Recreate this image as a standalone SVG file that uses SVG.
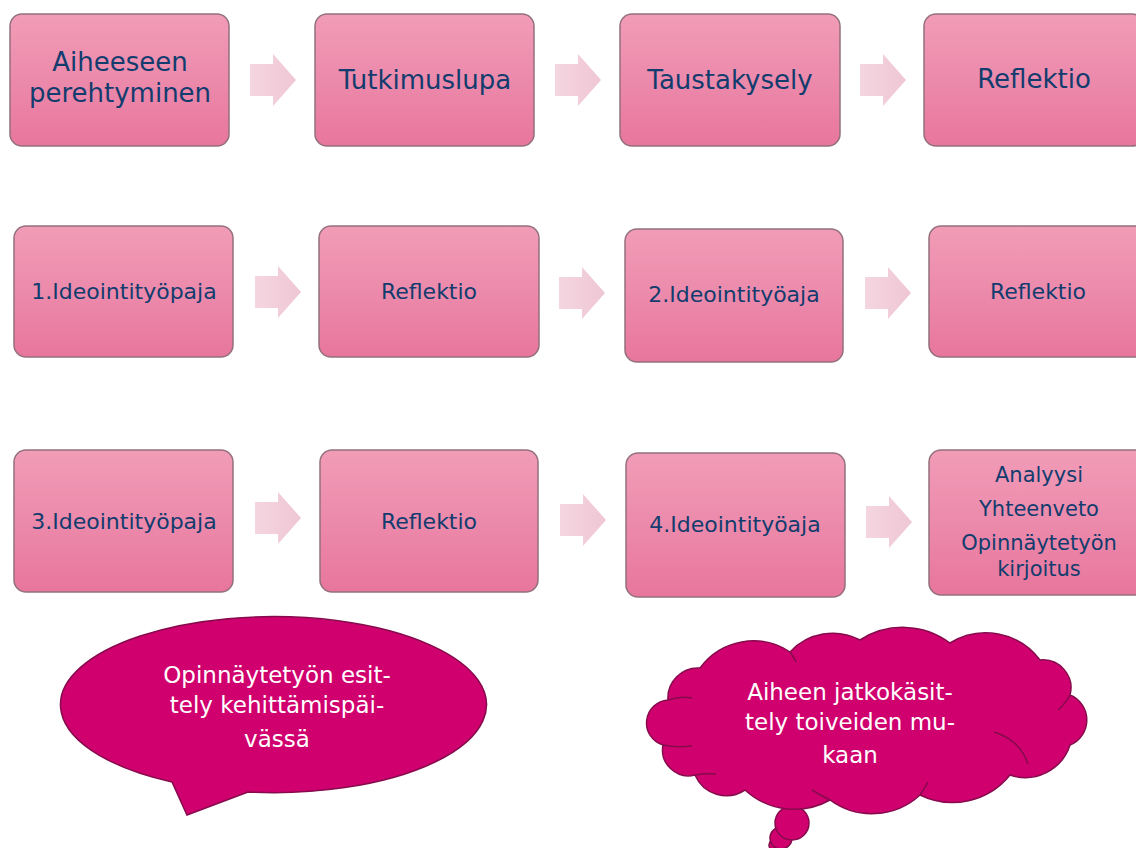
<svg xmlns="http://www.w3.org/2000/svg" width="1136" height="848" viewBox="0 0 1136 848">
<defs>
<linearGradient id="boxg" x1="0" y1="0" x2="0" y2="1">
<stop offset="0" stop-color="#f19cb7"/>
<stop offset="0.5" stop-color="#ec8aab"/>
<stop offset="1" stop-color="#e8769c"/>
</linearGradient>
<linearGradient id="arrg" x1="0" y1="0" x2="1" y2="0">
<stop offset="0" stop-color="#f4d6e0"/>
<stop offset="1" stop-color="#efc6d4"/>
</linearGradient>
<path id="arr" d="M0,-16 H23 V-26 L46,0 L23,26 V16 H0 Z"/>
</defs>
<style>
.box{fill:url(#boxg);stroke:#93707d;stroke-width:1.5}
.t{font-family:"DejaVu Sans",sans-serif;fill:#133c6e;text-anchor:middle}
.big{font-size:26px}
.mid{font-size:22px}
.sm{font-size:21px}
.ar{fill:url(#arrg)}
.bub{fill:#d0006f;stroke:#860a4c;stroke-width:1.5}
.inner{fill:none;stroke:#860a4c;stroke-width:1.5}
.w{font-family:"DejaVu Sans",sans-serif;fill:#ffffff;font-size:23px;text-anchor:middle}
</style>
<rect width="1136" height="848" fill="#ffffff"/>

<g id="connectors">
<use href="#arr" class="ar" transform="translate(250,80)"/>
<use href="#arr" class="ar" transform="translate(555,80)"/>
<use href="#arr" class="ar" transform="translate(860,80)"/>
<use href="#arr" class="ar" transform="translate(255,292)"/>
<use href="#arr" class="ar" transform="translate(559,293)"/>
<use href="#arr" class="ar" transform="translate(865,293)"/>
<use href="#arr" class="ar" transform="translate(255,518)"/>
<use href="#arr" class="ar" transform="translate(560,520)"/>
<use href="#arr" class="ar" transform="translate(866,522)"/>
</g>

<g id="n1"><rect class="box" x="10" y="14" width="219" height="132" rx="12"/>
<text class="t big" x="120" y="71">Aiheeseen</text><text class="t big" x="120" y="102">perehtyminen</text></g>
<g id="n2"><rect class="box" x="315" y="14" width="219" height="132" rx="12"/>
<text class="t big" x="425" y="89">Tutkimuslupa</text></g>
<g id="n3"><rect class="box" x="620" y="14" width="220" height="132" rx="12"/>
<text class="t big" x="730" y="89">Taustakysely</text></g>
<g id="n4"><rect class="box" x="924" y="14" width="220" height="132" rx="12"/>
<text class="t big" x="1034" y="88">Reflektio</text></g>

<g id="n5"><rect class="box" x="14" y="226" width="219" height="131" rx="12"/>
<text class="t mid" x="124" y="299">1.Ideointityöpaja</text></g>
<g id="n6"><rect class="box" x="319" y="226" width="220" height="131" rx="12"/>
<text class="t mid" x="429" y="299">Reflektio</text></g>
<g id="n7"><rect class="box" x="625" y="229" width="218" height="133" rx="12"/>
<text class="t mid" x="734" y="302">2.Ideointityöaja</text></g>
<g id="n8"><rect class="box" x="929" y="226" width="220" height="131" rx="12"/>
<text class="t mid" x="1038" y="299">Reflektio</text></g>

<g id="n9"><rect class="box" x="14" y="450" width="219" height="142" rx="12"/>
<text class="t mid" x="124" y="529">3.Ideointityöpaja</text></g>
<g id="n10"><rect class="box" x="320" y="450" width="218" height="142" rx="12"/>
<text class="t mid" x="429" y="529">Reflektio</text></g>
<g id="n11"><rect class="box" x="626" y="453" width="219" height="144" rx="12"/>
<text class="t mid" x="735" y="532">4.Ideointityöaja</text></g>
<g id="n12"><rect class="box" x="929" y="450" width="220" height="145" rx="12"/>
<text class="t sm" x="1039" y="482">Analyysi</text>
<text class="t sm" x="1039" y="516">Yhteenveto</text>
<text class="t sm" x="1039" y="550">Opinnäytetyön</text>
<text class="t sm" x="1039" y="576">kirjoitus</text></g>

<g id="speech">
<path class="bub" d="M172,782 A213,88 0 1 1 248,792 L187,815 Z"/>
<text class="w" x="277" y="683">Opinnäytetyön esit-</text>
<text class="w" x="277" y="713">tely kehittämispäi-</text>
<text class="w" x="277" y="747">vässä</text>
</g>

<g id="cloud">
<circle class="bub" cx="775" cy="845" r="6"/>
<circle class="bub" cx="781" cy="838" r="11"/>
<circle class="bub" cx="792" cy="823" r="17"/>
<path class="bub" d="M663,745 A23,23 0 0 1 668,700 A30,30 0 0 1 700,668 A66,66 0 0 1 790,652 A58,58 0 0 1 860,640 A79,79 0 0 1 950,643 A68,68 0 0 1 1040,660 A28,28 0 0 1 1070,695 A27,27 0 0 1 1070,745 A47,47 0 0 1 1010,775 A74,74 0 0 1 920,795 A71,71 0 0 1 830,800 A73,73 0 0 1 745,790 A34,34 0 0 1 695,775 A26,26 0 0 1 663,745 Z"/>
<path class="inner" d="M668,700 Q680,696 692,698"/>
<path class="inner" d="M663,745 Q675,748 692,746"/>
<path class="inner" d="M790,652 Q794,657 796,662"/>
<path class="inner" d="M1070,695 Q1066,703 1058,710"/>
<path class="inner" d="M994,732 Q1020,740 1028,764"/>
<path class="inner" d="M920,795 Q925,788 928,782"/>
<path class="inner" d="M695,775 Q705,773 716,774"/>
<path class="inner" d="M830,800 Q820,795 812,790"/>
<text class="w" x="850" y="700">Aiheen jatkokäsit-</text>
<text class="w" x="850" y="730">tely toiveiden mu-</text>
<text class="w" x="850" y="763">kaan</text>
</g>
</svg>
